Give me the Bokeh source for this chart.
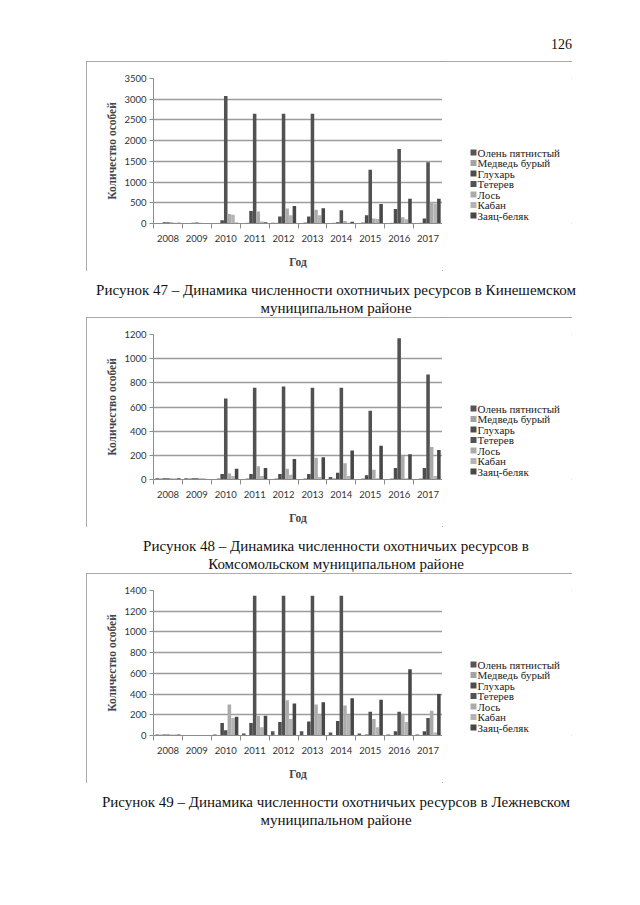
from bokeh.plotting import figure
from bokeh.models import ColumnDataSource, FixedTicker, Div, Range1d
from bokeh.layouts import column, row
from bokeh.transform import dodge
from bokeh.core.properties import value
from bokeh.embed import file_html
from bokeh.resources import INLINE

years = ["2008", "2009", "2010", "2011", "2012", "2013", "2014", "2015", "2016", "2017"]
species = ["Олень пятнистый", "Медведь бурый", "Глухарь", "Тетерев", "Лось", "Кабан", "Заяц-беляк"]
colors = ["#575757", "#a3a3a3", "#4d4d4d", "#525252", "#ababab", "#b4b4b4", "#474747"]

# Рисунок 47 – Кинешемский район
kin_olen = [5, 5, 5, 10, 20, 10, 5, 10, 10, 10]
kin_medved = [10, 8, 10, 20, 20, 30, 20, 30, 20, 20]
kin_gluhar = [30, 20, 80, 300, 170, 170, 30, 200, 350, 120]
kin_teterev = [30, 25, 3080, 2650, 2650, 2650, 320, 1300, 1800, 1480]
kin_los = [30, 20, 230, 290, 360, 330, 60, 120, 150, 520]
kin_kaban = [20, 15, 210, 50, 200, 200, 20, 110, 100, 480]
kin_zayac = [20, 10, 20, 30, 420, 370, 40, 470, 600, 600]

# Рисунок 48 – Комсомольский район
kom_olen = [10, 10, 5, 5, 5, 5, 20, 5, 5, 5]
kom_medved = [10, 10, 10, 10, 10, 10, 10, 10, 10, 10]
kom_gluhar = [10, 10, 45, 45, 45, 45, 55, 35, 95, 95]
kom_teterev = [10, 10, 670, 760, 770, 760, 760, 570, 1170, 870]
kom_los = [10, 10, 50, 110, 90, 180, 135, 80, 195, 270]
kom_kaban = [10, 10, 30, 30, 40, 20, 30, 10, 10, 30]
kom_zayac = [10, 5, 90, 95, 170, 185, 240, 280, 210, 245]

# Рисунок 49 – Лежневский район
lez_olen = [10, 5, 10, 20, 40, 40, 30, 20, 10, 10]
lez_medved = [10, 5, 5, 5, 5, 5, 5, 5, 5, 5]
lez_gluhar = [10, 5, 120, 120, 130, 135, 140, 10, 40, 40]
lez_teterev = [10, 5, 50, 1350, 1350, 1350, 1350, 230, 230, 170]
lez_los = [10, 5, 300, 190, 340, 300, 290, 160, 210, 240]
lez_kaban = [10, 5, 170, 80, 160, 200, 200, 80, 130, 30]
lez_zayac = [10, 5, 180, 190, 310, 320, 360, 345, 640, 400]

captions = [
    "Рисунок 47 – Динамика численности охотничьих ресурсов в Кинешемском<br>муниципальном районе",
    "Рисунок 48 – Динамика численности охотничьих ресурсов в<br>Комсомольском муниципальном районе",
    "Рисунок 49 – Динамика численности охотничьих ресурсов в Лежневском<br>муниципальном районе",
]

AXIS_GRAY = "#8c8c8c"
SERIF = "'Liberation Serif', serif"
CHART_H = 210
FRAME_H = 145
LEG_W = 130


def make_chart(series, ymax, ystep, top_margin):
    xs = list(range(len(years)))
    data = {"x": xs}
    for i, vals in enumerate(series):
        data[f"s{i}"] = vals
    src = ColumnDataSource(data)
    p = figure(width=356, height=CHART_H, x_range=Range1d(-0.5, len(years) - 0.5),
               y_range=Range1d(0, ymax), output_backend="svg", toolbar_location=None,
               min_border_left=67, min_border_right=0, min_border_top=17, min_border_bottom=48,
               outline_line_color=None, background_fill_color="white", border_fill_color="white")
    pitch = 1.0 / 8
    for i in range(len(species)):
        p.vbar(x=dodge("x", (i - 3) * pitch, range=p.x_range), top=f"s{i}",
               width=pitch * 0.98, source=src, fill_color=colors[i], line_color=None)

    xa = p.xaxis[0]
    xa.ticker = FixedTicker(ticks=xs, minor_ticks=[i - 0.5 for i in range(len(years) + 1)])
    xa.major_label_overrides = {i: y for i, y in enumerate(years)}
    xa.major_tick_out = 0
    xa.major_tick_in = 0
    xa.minor_tick_out = 5
    xa.minor_tick_in = 0
    xa.axis_line_color = AXIS_GRAY
    xa.minor_tick_line_color = AXIS_GRAY
    xa.major_label_standoff = 6
    xa.major_label_text_font = "Lato"
    xa.major_label_text_font_size = "9.5px"
    xa.major_label_text_color = "#333333"
    xa.axis_label = "Год"
    xa.axis_label_text_font = SERIF
    xa.axis_label_text_font_size = "11.5px"
    xa.axis_label_text_font_style = "bold"
    xa.axis_label_standoff = 11

    ya = p.yaxis[0]
    yticks = list(range(0, ymax + 1, ystep))
    ya.ticker = FixedTicker(ticks=yticks)
    ya.minor_tick_line_color = None
    ya.major_tick_out = 4
    ya.major_tick_in = 0
    ya.major_tick_line_color = AXIS_GRAY
    ya.axis_line_color = AXIS_GRAY
    ya.major_label_standoff = 3
    ya.major_label_text_font = "Lato"
    ya.major_label_text_font_size = "9.5px"
    ya.major_label_text_color = "#333333"
    ya.axis_label = "Количество особей"
    ya.axis_label_text_font = SERIF
    ya.axis_label_text_font_size = "11.5px"
    ya.axis_label_text_font_style = "bold"
    ya.axis_label_standoff = 3

    p.xgrid.grid_line_color = None
    p.ygrid.ticker = FixedTicker(ticks=yticks)
    p.ygrid.grid_line_color = "#9c9c9c"
    p.ygrid.grid_line_width = 1.5

    # legend panel: its frame is aligned with the chart frame (145 px tall), 1 unit = 1 px
    lg = figure(width=LEG_W, height=CHART_H, x_range=Range1d(0, LEG_W), y_range=Range1d(0, FRAME_H),
                output_backend="svg", toolbar_location=None, min_border=0,
                x_axis_type=None, y_axis_type=None,
                outline_line_color=None, background_fill_color="white", border_fill_color="white")
    lg.grid.grid_line_color = None
    step = 10.5
    top_y = FRAME_H - 74
    ly = [top_y - k * step for k in range(len(species))]
    lsrc = ColumnDataSource(dict(y=ly, label=species, color=colors))
    lg.scatter(x=31, y="y", marker="square", size=6, fill_color="color", line_color=None, source=lsrc)
    lg.text(x=35, y="y", text="label", source=lsrc, text_font=value(SERIF), text_font_size="11px",
            text_baseline="middle", text_align="left", text_color="#222222")

    return row(p, lg, margin=(top_margin, 0, 0, 86), spacing=0,
               styles={"outline": "1px solid #8f8f8f", "outline-offset": "-1px"})


cap_style = {"font-family": "'Liberation Serif', serif", "font-size": "15px", "line-height": "18px",
             "text-align": "center", "white-space": "nowrap", "color": "#111111"}


def caption(text):
    return Div(text=text, width=520, height=36, margin=(10, 0, 0, 76), styles=cap_style)


page_no = Div(text="126", width=486, height=16, margin=(37, 0, 0, 86),
              styles={"font-family": "'Liberation Serif', serif", "font-size": "14px",
                      "line-height": "16px", "text-align": "right", "color": "#111111"})

c1 = make_chart([kin_olen, kin_medved, kin_gluhar, kin_teterev, kin_los, kin_kaban, kin_zayac], 3500, 500, 8)
c2 = make_chart([kom_olen, kom_medved, kom_gluhar, kom_teterev, kom_los, kom_kaban, kom_zayac], 1200, 200, 0)
c3 = make_chart([lez_olen, lez_medved, lez_gluhar, lez_teterev, lez_los, lez_kaban, lez_zayac], 1400, 200, 0)

page = column(page_no, c1, caption(captions[0]), c2, caption(captions[1]), c3, caption(captions[2]),
              spacing=0)

open("out.html", "w").write(file_html(page, INLINE))
